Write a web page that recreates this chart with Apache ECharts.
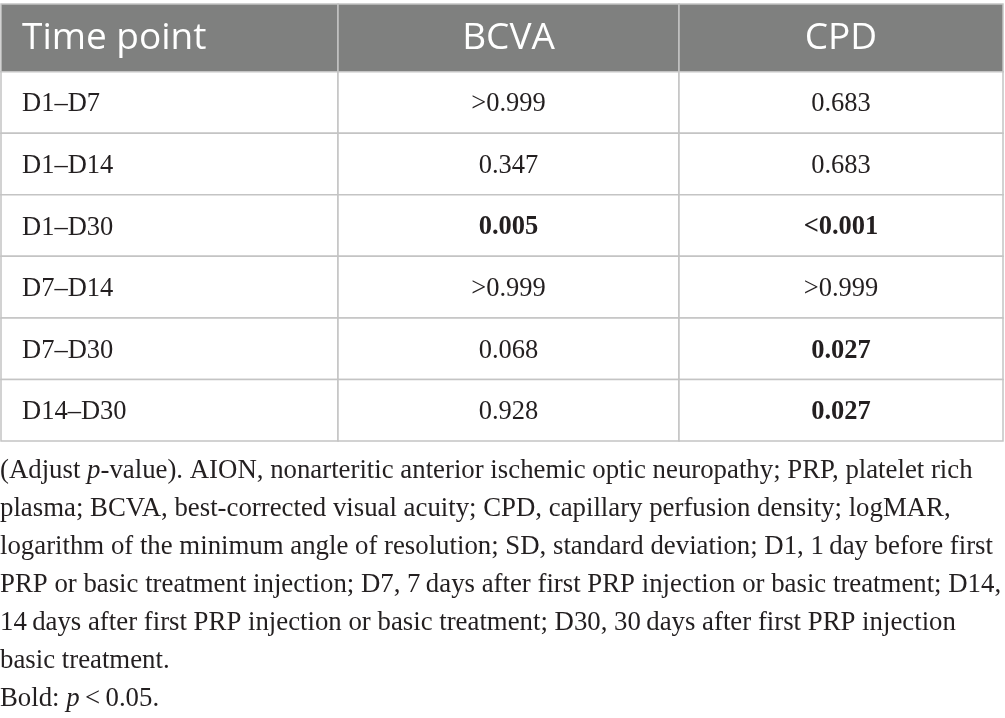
<!DOCTYPE html>
<html><head><meta charset="utf-8">
<script src="https://cdn.jsdelivr.net/npm/echarts@6/dist/echarts.min.js"></script>
<style>html,body{margin:0;padding:0;background:#fff}#c{width:1005px;height:718px}</style>
</head><body><div id="c"></div>
<script>
var headers = ['Time point', 'BCVA', 'CPD'];
var timePoints = ['D1\u2013D7', 'D1\u2013D14', 'D1\u2013D30', 'D7\u2013D14', 'D7\u2013D30', 'D14\u2013D30'];
var bcva = ['>0.999', '0.347', '0.005', '>0.999', '0.068', '0.928'];
var cpd = ['0.683', '0.683', '<0.001', '>0.999', '0.027', '0.027'];
var footLines = [
  '(Adjust {i|p}-value). AION, nonarteritic anterior ischemic optic neuropathy; PRP, platelet rich',
  'plasma; BCVA, best-corrected visual acuity; CPD, capillary perfusion density; logMAR,',
  'logarithm of the minimum angle of resolution; SD, standard deviation; D1, 1\u2009day before first',
  'PRP or basic treatment injection; D7, 7\u2009days after first PRP injection or basic treatment; D14,',
  '14\u2009days after first PRP injection or basic treatment; D30, 30\u2009days after first PRP injection',
  'basic treatment.',
  'Bold: {i|p}\u2009<\u20090.05.'
];

function isSig(v) {
  if (v.charAt(0) === '<') return true;
  if (v.charAt(0) === '>') return false;
  return parseFloat(v) < 0.05;
}

// layout constants (column edges in axis units, header band height)
var COL_EDGES = [0, 337, 678, 1002];
var HEADER_TOP = -1.1;

var cells = [];
headers.forEach(function (h, c) { cells.push({ value: [c, -1], text: h, header: true, bold: false }); });
timePoints.forEach(function (t, r) {
  cells.push({ value: [0, r], text: t, header: false, bold: false });
  cells.push({ value: [1, r], text: bcva[r], header: false, bold: isSig(bcva[r]) });
  cells.push({ value: [2, r], text: cpd[r], header: false, bold: isSig(cpd[r]) });
});

var serif = '"Liberation Serif", "DejaVu Serif", serif';
var sans = '"Open Sans", "Noto Sans", sans-serif';

var chart = echarts.init(document.getElementById('c'));
chart.setOption({
  animation: false,
  grid: { left: 1, right: 2, top: 4, bottom: 277 },
  xAxis: { type: 'value', min: 0, max: COL_EDGES[3], show: false },
  yAxis: { type: 'value', min: HEADER_TOP, max: 6, inverse: true, show: false },
  title: {
    left: 0, top: 452, padding: 0,
    text: footLines.join('\n'),
    textStyle: {
      fontFamily: serif, fontSize: 26.8, fontWeight: 'normal', color: '#231f20', lineHeight: 38,
      rich: { i: { fontFamily: serif, fontSize: 26.8, fontStyle: 'italic', color: '#231f20', lineHeight: 38 } }
    }
  },
  series: [{
    type: 'custom',
    coordinateSystem: 'cartesian2d',
    data: cells,
    renderItem: function (params, api) {
      var d = cells[params.dataIndex];
      var col = api.value(0), row = api.value(1);
      var top = d.header ? HEADER_TOP : row;
      var bot = d.header ? 0 : row + 1;
      var p0 = api.coord([COL_EDGES[col], top]);
      var p1 = api.coord([COL_EDGES[col + 1], bot]);
      var w = p1[0] - p0[0], h = p1[1] - p0[1];
      var left = col === 0;
      var tx = left ? p0[0] + 21 : p0[0] + w / 2;
      var ty = p0[1] + h / 2;
      return {
        type: 'group',
        children: [
          { type: 'rect', shape: { x: p0[0], y: p0[1], width: w, height: h },
            style: { fill: d.header ? '#7f807f' : '#ffffff', stroke: '#c4c4c4', lineWidth: 1.5 } },
          { type: 'text',
            style: {
              text: d.text, x: tx, y: ty + (d.header ? 1 : 2),
              align: left ? 'left' : 'center', verticalAlign: 'middle',
              fill: d.header ? '#ffffff' : '#231f20',
              font: d.header ? ('normal 37px ' + sans) : ((d.bold ? 'bold ' : 'normal ') + '26.5px ' + serif)
            } }
        ]
      };
    }
  }]
});
</script></body></html>
